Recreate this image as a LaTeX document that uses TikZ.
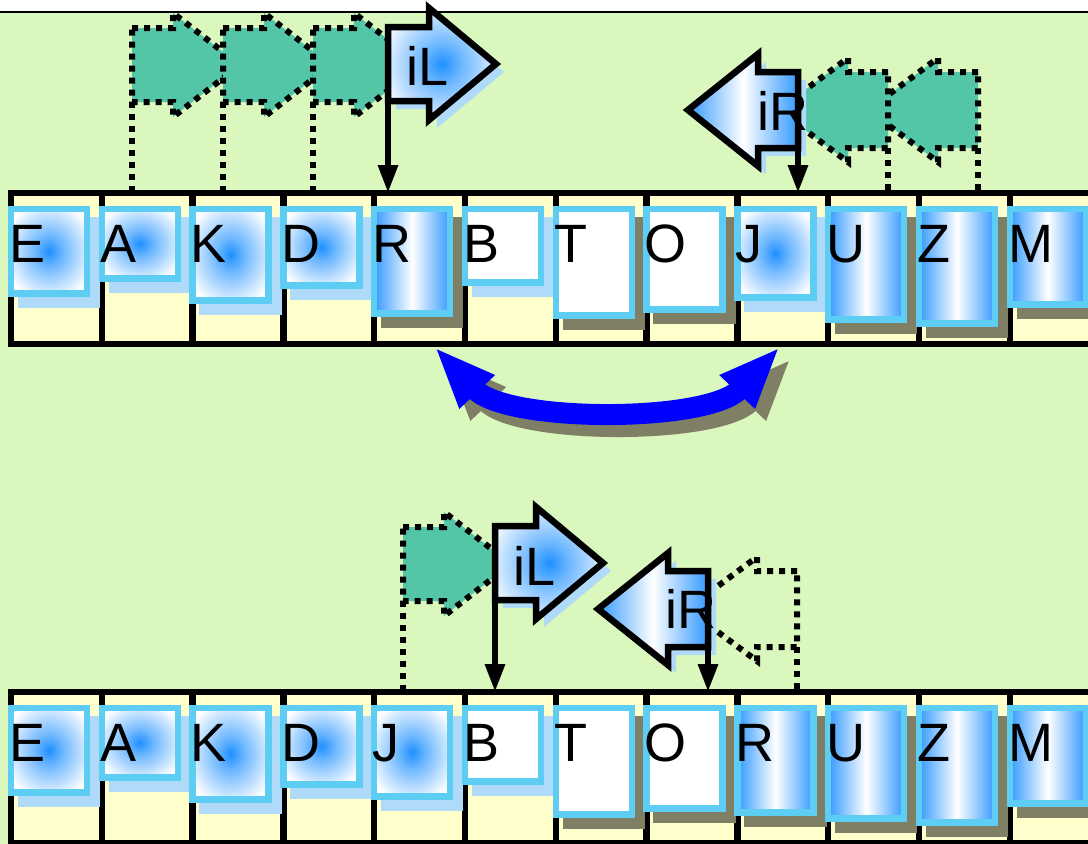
\documentclass[tikz,border=0pt]{standalone}
\usepackage{fontspec}
\setmainfont{Liberation Sans}
\usetikzlibrary{arrows.meta, shadows}

\definecolor{bggreen}{RGB}{218,247,189}
\definecolor{cellyellow}{RGB}{255,255,204}
\definecolor{rimcyan}{RGB}{94,205,243}
\definecolor{glowblue}{RGB}{30,144,255}
\definecolor{barblue}{RGB}{51,153,255}
\definecolor{lightshade}{RGB}{176,218,250}
\definecolor{darkshade}{RGB}{127,127,101}
\definecolor{mint}{RGB}{84,198,168}
\pgfdeclareradialshading{glow}{\pgfpoint{0bp}{0bp}}{color(0bp)=(glowblue); color(9bp)=(glowblue!65!white); color(30bp)=(white); color(50bp)=(white)}

\begin{document}
\begin{tikzpicture}[
    x=1pt, y=-1pt,
    headh/.initial=56,
    cell/.style    ={draw, line width=6.5pt, fill=cellyellow, anchor=north west, inner sep=0pt, outer sep=0pt, minimum width=90.8pt, minimum height=151pt},
    box/.style     ={draw=rimcyan, line width=6.5pt, anchor=north west, inner sep=0pt, outer sep=0pt, minimum width=76pt},
    cglow/.style   ={shade, shading=glow},
    cbar/.style    ={left color=barblue, right color=barblue, middle color=white},
    cblank/.style  ={fill=white},
    slight/.style  ={drop shadow={shadow xshift=10pt, shadow yshift=-11pt, fill=lightshade, draw=lightshade, opacity=1}},
    sdark/.style   ={drop shadow={shadow xshift=10pt, shadow yshift=-11pt, fill=darkshade, draw=darkshade, opacity=1}},
    letter/.style  ={font=\fontsize{54pt}{60pt}\selectfont, anchor=base west, inner sep=0pt},
    ptrglow/.style ={draw=black, line width=6.5pt, shade, shading=glow, drop shadow={shadow xshift=8pt, shadow yshift=-8pt, fill=lightshade, opacity=1}},
    ptrbar/.style  ={draw=black, line width=6.5pt, left color=barblue, right color=barblue, middle color=white, drop shadow={shadow xshift=8pt, shadow yshift=-8pt, fill=lightshade, opacity=1}},
    ptrmint/.style ={draw=black, line width=6pt, dash pattern=on 6pt off 6pt, fill=mint, headh=52},
    ptrghost/.style={draw=black, line width=6pt, dash pattern=on 6pt off 6pt, headh=52},
    dotline/.style ={line width=6pt, dash pattern=on 6pt off 6pt},
    ptrline/.style ={line width=6pt, -{Triangle[length=28pt,width=19pt]}},
    swaparc/.style ={line width=21pt, {Triangle[length=62pt,width=44pt]}-{Triangle[length=62pt,width=44pt]}},
    pics/rptr/.style={code={
      \path[#1] (0,-37) -- (41,-37) -- (41,-\pgfkeysvalueof{/tikz/headh}) -- (108,0) -- (41,\pgfkeysvalueof{/tikz/headh}) -- (41,37) -- (0,37) -- cycle;
      \coordinate (-foot) at (0,37);}},
    pics/lptr/.style={code={
      \path[#1] (0,-38) -- (-40,-38) -- (-40,-\pgfkeysvalueof{/tikz/headh}) -- (-110,0) -- (-40,\pgfkeysvalueof{/tikz/headh}) -- (-40,38) -- (0,38) -- cycle;
      \coordinate (-foot) at (0,38);}},
]
\useasboundingbox (0,0) rectangle (1088,844);
\clip (0,0) rectangle (1088,844);
\fill[bggreen] (0,12) rectangle (1088,844);
\draw[line width=2pt] (0,12) -- (1088,12);

% the two rows of cells
\foreach \i in {0,...,11} {
  \node[cell] (r1c\i) at ({11+90.8*\i},193) {};
  \node[cell] (r2c\i) at ({11+90.8*\i},692) {};
}

% letter boxes, before the swap
\foreach \ch/\h/\fil/\shd [count=\i from 0] in {E/91/cglow/slight, A/76/cglow/slight, K/98/cglow/slight, D/83/cglow/slight, R/111/cbar/sdark, B/80/cblank/slight, T/113/cblank/sdark, O/107/cblank/sdark, J/95/cglow/slight, U/117/cbar/sdark, Z/121/cbar/sdark, M/102/cbar/sdark} {
  \node[box, \fil, \shd, minimum height={(\h-6.5)*1pt}] (b1\ch) at ({11+90.8*\i},209) {};
  \node[letter] (t1\ch) at ([xshift=-2pt, yshift=-53pt]b1\ch.north west) {\ch};
}

% letter boxes, after the swap
\foreach \ch/\h/\fil/\shd [count=\i from 0] in {E/91/cglow/slight, A/76/cglow/slight, K/98/cglow/slight, D/83/cglow/slight, J/95/cglow/slight, B/80/cblank/slight, T/113/cblank/sdark, O/107/cblank/sdark, R/111/cbar/sdark, U/117/cbar/sdark, Z/121/cbar/sdark, M/102/cbar/sdark} {
  \node[box, \fil, \shd, minimum height={(\h-6.5)*1pt}] (b2\ch) at ({11+90.8*\i},708) {};
  \node[letter] (t2\ch) at ([xshift=-2pt, yshift=-53pt]b2\ch.north west) {\ch};
}

% pointers, top row
\pic (g1a) at (132,65) {rptr=ptrmint};
\pic (g1b) at (223,65) {rptr=ptrmint};
\pic (g1c) at (313,65) {rptr=ptrmint};
\pic (iL1) at (388,64) {rptr=ptrglow};
\pic (g1d) at (978,110) {lptr=ptrmint};
\pic (g1e) at (888,110) {lptr=ptrmint};
\pic (iR1) at (798,110) {lptr=ptrbar};
\node[letter] (tiL1) at (406,85) {iL};
\node[letter] (tiR1) at (757,130) {iR};
\draw[dotline] (g1a-foot) -- (g1a-foot |- r1c1.north);
\draw[dotline] (g1b-foot) -- (g1b-foot |- r1c2.north);
\draw[dotline] (g1c-foot) -- (g1c-foot |- r1c3.north);
\draw[dotline] (g1e-foot) -- (g1e-foot |- r1c9.north);
\draw[dotline] (g1d-foot) -- (g1d-foot |- r1c10.north);
\draw[ptrline] (iL1-foot) -- (iL1-foot |- r1c4.north);
\draw[ptrline] (iR1-foot) -- (iR1-foot |- r1c8.north);

% pointers, bottom row
\pic (g2a) at (403,564) {rptr=ptrmint};
\pic (iL2) at (495,563) {rptr=ptrglow};
\pic (g2b) at (797,609) {lptr=ptrghost};
\pic (iR2) at (708,609) {lptr=ptrbar};
\node[letter] (tiL2) at (513,585) {iL};
\node[letter] (tiR2) at (665,628) {iR};
\draw[dotline] (g2a-foot) -- (g2a-foot |- r2c4.north);
\draw[dotline] (g2b-foot) -- (g2b-foot |- r2c8.north);
\draw[ptrline] (iL2-foot) -- (iL2-foot |- r2c5.north);
\draw[ptrline] (iR2-foot) -- (iR2-foot |- r2c7.north);

% swap of R and J
\draw[swaparc, draw=darkshade, transform canvas={shift={(11pt,-12pt)}}] ([xshift=15pt, yshift=-3pt]r1c4.south) .. controls +(72,76) and +(-72,76) .. ([xshift=-3pt, yshift=-3pt]r1c8.south);
\draw[swaparc, draw=blue] ([xshift=15pt, yshift=-3pt]r1c4.south) .. controls +(72,76) and +(-72,76) .. ([xshift=-3pt, yshift=-3pt]r1c8.south);
\end{tikzpicture}
\end{document}
